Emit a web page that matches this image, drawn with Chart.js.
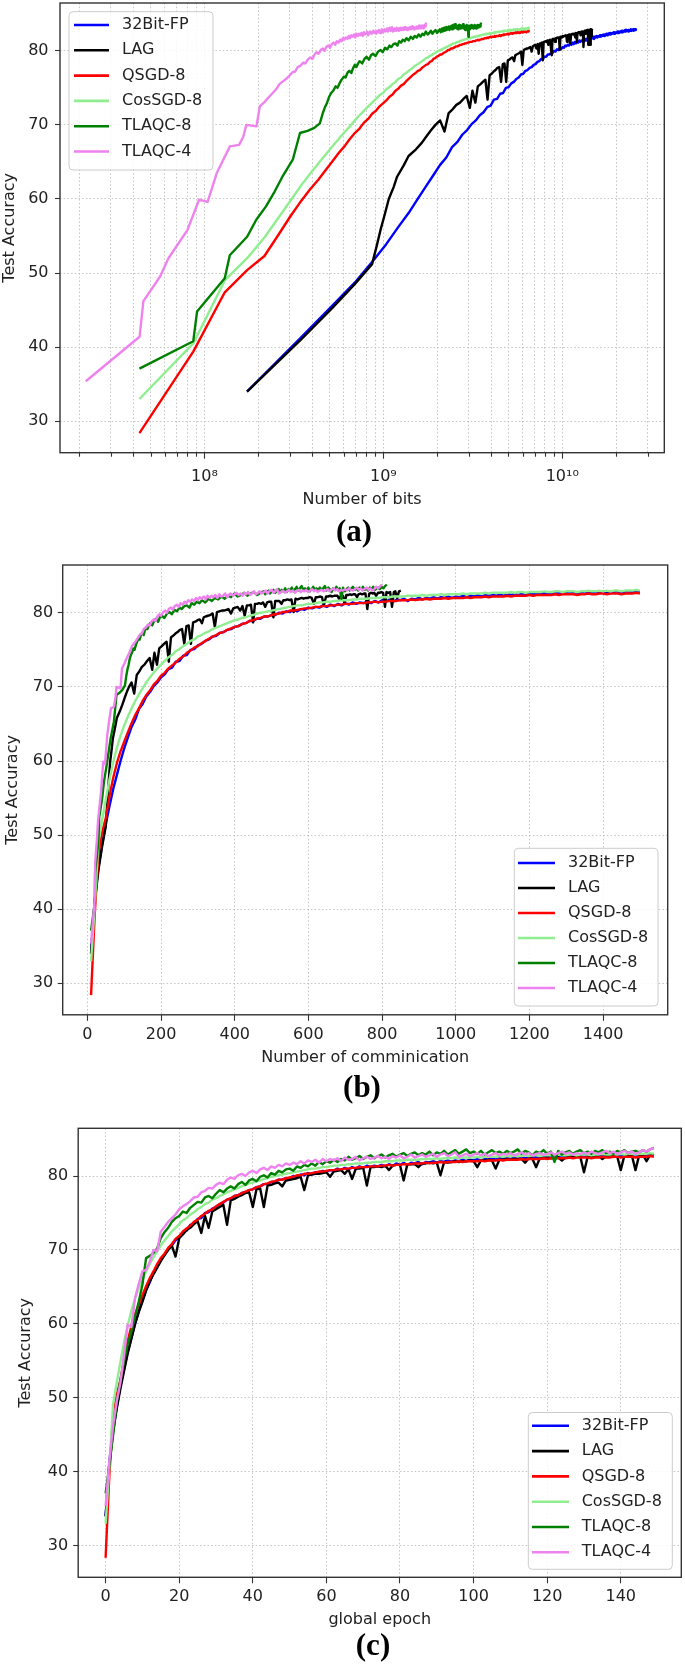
<!DOCTYPE html>
<html><head><meta charset="utf-8">
<script src="https://cdn.jsdelivr.net/npm/chart.js@4.4.1/dist/chart.umd.min.js"></script>
<style>
html,body{margin:0;padding:0;background:#fff;}
body{width:685px;height:1669px;position:relative;overflow:hidden;}
canvas{position:absolute;left:0;}
.plabel{position:absolute;font-family:"Liberation Serif","Times New Roman",serif;font-weight:bold;font-size:31px;line-height:31px;transform:translate(-50%,-50%);white-space:nowrap;color:#000;}
</style></head>
<body>
<canvas id="ca" width="685" height="520" style="top:0px;width:685px;height:520px"></canvas>
<canvas id="cb" width="685" height="530" style="top:545px;width:685px;height:530px"></canvas>
<canvas id="cc" width="685" height="535" style="top:1100px;width:685px;height:535px"></canvas>
<div class="plabel" style="left:354px;top:530px">(a)</div>
<div class="plabel" style="left:362px;top:1086px">(b)</div>
<div class="plabel" style="left:373px;top:1644px">(c)</div>
<script>
// ---------------- DATA ----------------
const seriesLabels = ['32Bit-FP', 'LAG', 'QSGD-8', 'CosSGD-8', 'TLAQC-8', 'TLAQC-4'];

// test accuracy per global epoch (0..149)
const acc32 = [
34.0,41.3,45.6,48.7,51.5,53.9,56.2,58.1,60.0,61.7,
63.2,64.6,65.6,67.0,67.7,68.7,69.3,70.1,70.6,71.3,
71.7,72.4,72.6,73.4,73.5,74.2,74.3,75.0,75.1,75.6,
75.8,76.2,76.4,76.8,76.9,77.3,77.4,77.7,77.8,78.1,
78.2,78.5,78.6,78.9,78.9,79.2,79.2,79.5,79.5,79.7,
79.7,80.0,79.9,80.2,80.1,80.4,80.2,80.5,80.4,80.7,
80.6,80.8,80.7,81.0,80.8,81.1,80.9,81.2,81.0,81.3,
81.1,81.4,81.2,81.4,81.3,81.5,81.3,81.6,81.4,81.7,
81.5,81.8,81.5,81.8,81.7,81.9,81.6,81.9,81.8,82.0,
81.8,82.0,81.9,82.1,81.9,82.1,82.0,82.2,82.0,82.2,
82.1,82.3,82.1,82.3,82.2,82.4,82.2,82.4,82.3,82.4,
82.3,82.5,82.3,82.5,82.4,82.5,82.4,82.6,82.4,82.6,
82.5,82.6,82.5,82.7,82.5,82.7,82.6,82.7,82.6,82.8,
82.6,82.8,82.7,82.7,82.6,82.8,82.7,82.8,82.7,82.9,
82.7,82.8,82.8,82.9,82.7,82.9,82.8,82.8,82.9,82.8];
const accLAG = [
34.0,41.0,45.3,48.5,51.2,53.6,56.0,58.0,60.0,61.6,
63.0,64.5,65.8,66.7,67.6,68.5,69.3,70.0,70.6,69.1,
71.6,72.1,72.7,73.0,73.5,73.9,72.3,74.6,73.0,75.2,
75.5,75.8,76.1,73.4,76.7,76.9,77.2,77.4,77.7,77.8,
75.8,78.2,78.3,75.8,78.7,78.8,79.0,79.1,78.6,79.4,
79.5,79.6,79.7,79.9,78.1,80.1,80.2,80.3,80.3,80.4,
80.5,79.9,80.6,80.7,80.8,80.3,80.9,79.6,81.0,81.0,
81.1,78.7,81.2,81.2,81.3,81.2,81.4,80.8,81.4,81.5,
81.5,79.4,81.6,81.6,81.6,81.2,81.7,81.7,81.8,81.7,
81.8,80.1,81.9,81.8,81.9,82.0,81.9,82.0,82.0,82.1,
82.0,81.2,82.1,82.1,82.2,82.1,81.0,82.2,82.2,82.3,
82.2,82.3,82.3,82.3,81.8,82.4,82.3,81.2,82.4,82.4,
82.5,82.4,82.5,82.5,82.1,82.5,82.6,82.5,82.6,82.6,
80.5,82.6,82.7,82.6,82.7,82.3,82.7,82.7,82.8,82.7,
80.8,82.8,82.7,82.8,80.8,82.8,82.9,82.0,82.9,83.0];
const accQSGD = [
28.4,39.4,47.4,50.4,52.3,55.2,57.7,59.7,61.3,62.6,
63.9,65.1,66.2,67.1,68.1,68.9,69.5,70.3,70.8,71.5,
71.9,72.5,72.9,73.3,73.8,74.1,74.6,74.9,75.3,75.5,
75.9,76.2,76.5,76.8,77.0,77.3,77.4,77.7,77.9,78.1,
78.2,78.5,78.6,78.9,79.0,79.2,79.3,79.5,79.5,79.7,
79.8,79.9,80.1,80.1,80.3,80.3,80.4,80.5,80.6,80.6,
80.7,80.8,80.8,80.9,80.9,81.0,81.0,81.1,81.1,81.2,
81.2,81.2,81.3,81.3,81.3,81.4,81.4,81.5,81.4,81.5,
81.5,81.6,81.6,81.6,81.7,81.7,81.7,81.8,81.7,81.8,
81.8,81.9,81.8,81.9,81.9,81.9,82.0,81.9,82.0,82.0,
82.0,82.0,82.1,82.0,82.1,82.1,82.1,82.2,82.1,82.2,
82.2,82.2,82.2,82.3,82.2,82.3,82.3,82.3,82.3,82.4,
82.3,82.4,82.4,82.4,82.4,82.4,82.5,82.4,82.5,82.5,
82.5,82.5,82.4,82.5,82.5,82.6,82.5,82.5,82.6,82.6,
82.5,82.6,82.6,82.6,82.5,82.6,82.6,82.6,82.7,82.6];
const accCos = [
33.0,40.5,49.0,52.0,54.8,57.5,59.8,61.8,63.4,64.8,
66.0,67.1,68.1,69.0,69.8,70.6,71.3,71.9,72.5,73.0,
73.5,74.0,74.3,74.8,75.1,75.5,75.8,76.2,76.4,76.8,
77.0,77.3,77.5,77.8,78.0,78.2,78.4,78.6,78.8,79.0,
79.1,79.3,79.4,79.6,79.7,79.9,80.0,80.1,80.2,80.3,
80.4,80.5,80.6,80.7,80.8,80.9,81.0,81.0,81.1,81.2,
81.2,81.3,81.4,81.4,81.5,81.5,81.6,81.6,81.7,81.7,
81.7,81.8,81.8,81.9,81.9,81.9,82.0,82.0,82.0,82.1,
82.1,82.1,82.2,82.2,82.2,82.2,82.3,82.3,82.3,82.3,
82.4,82.3,82.4,82.4,82.4,82.5,82.4,82.5,82.5,82.5,
82.5,82.6,82.5,82.6,82.6,82.6,82.6,82.7,82.6,82.7,
82.7,82.7,82.7,82.7,82.8,82.7,82.8,82.8,82.7,82.8,
82.8,82.8,82.8,82.9,82.8,82.8,82.9,82.9,82.8,82.9,
82.9,82.9,82.8,82.9,82.9,83.0,82.9,82.9,83.0,82.9,
83.0,82.9,83.0,83.0,82.9,83.0,83.0,83.0,83.1,83.0];
const accTL8 = [
37.1,40.8,44.8,49.3,52.4,54.9,57.2,59.0,61.0,63.0,
65.3,68.9,69.2,69.6,70.2,71.6,72.4,73.0,73.8,74.3,
74.6,75.2,75.0,75.7,76.1,76.5,76.4,77.1,77.3,77.0,
77.6,78.1,77.8,78.3,78.6,78.3,78.9,79.2,78.8,79.4,
79.6,79.3,79.9,80.1,79.8,80.4,80.2,80.7,80.5,80.9,
81.0,80.7,81.3,81.1,81.5,81.3,81.7,81.4,81.9,81.6,
82.0,81.8,82.2,81.9,82.3,82.1,82.6,82.2,82.4,82.7,
82.3,82.6,82.8,82.4,82.7,82.9,82.5,82.8,83.0,82.6,
82.9,83.1,82.7,83.0,83.2,82.8,83.1,82.9,83.3,82.8,
83.2,83.0,83.4,82.9,83.2,83.5,83.0,83.3,83.6,83.1,
83.3,83.0,83.4,82.9,83.2,83.5,83.1,83.3,83.0,83.4,
83.1,83.3,83.6,83.0,83.4,83.2,82.8,83.3,83.1,83.5,
83.0,83.3,81.9,83.4,82.9,83.2,83.4,83.0,83.3,83.5,
83.1,83.3,83.0,83.4,83.2,83.5,83.1,83.3,83.0,83.4,
83.2,83.5,83.1,83.3,83.4,83.2,83.5,83.3,83.6,83.8];
const accTL4 = [
35.4,41.4,46.2,49.5,52.0,55.8,59.9,59.6,63.5,65.4,
67.1,67.3,68.4,70.0,69.8,72.5,73.1,73.8,74.3,74.8,
75.5,75.9,76.2,76.6,77.1,77.2,77.8,78.0,78.4,78.3,
78.8,79.1,78.9,79.5,79.8,79.6,80.1,80.3,80.0,80.5,
80.7,80.4,80.9,81.1,80.8,81.3,81.1,81.5,81.3,81.7,
81.5,81.8,81.6,82.0,81.7,82.1,81.9,82.2,81.8,82.3,
82.0,82.3,82.1,82.4,82.0,82.5,82.2,82.3,82.6,82.1,
82.4,82.6,82.3,82.5,82.7,82.4,82.6,82.3,82.7,82.5,
82.8,82.4,82.6,82.9,82.5,82.7,82.9,82.6,82.8,83.0,
82.6,82.9,83.1,82.7,82.9,83.2,82.6,82.8,83.0,82.7,
82.9,83.1,82.8,83.0,82.7,82.9,83.1,82.8,83.0,82.9,
83.1,82.8,83.0,83.2,82.9,83.1,82.8,83.0,83.1,82.9,
83.0,83.2,82.9,83.1,83.3,83.0,83.2,82.9,83.1,83.0,
83.2,83.0,83.3,83.1,83.0,83.2,83.4,83.1,83.3,83.0,
83.2,83.4,83.1,83.3,83.0,83.2,83.5,83.3,83.6,83.8];

// communications made in each epoch (full-participation methods send 10 per epoch)
const fullCommsPerEpoch = 10;
const commsLAG = [
10,10,10,10,10,3,3,3,3,4, 3,6,5,8,7,6,6,6,7,7, 7,7,7,7,7,7,7,6,7,6, 7,6,7,6,6,6,6,6,6,6,
6,6,6,6,6,6,6,6,6,5, 5,6,6,7,6,6,6,7,6,6, 6,7,6,6,6,7,6,6,6,6, 5,6,5,6,5,6,5,6,5,6,
5,6,5,6,5,6,5,6,5,6, 5,6,5,6,5,6,5,6,5,6, 5,6,5,6,5,6,5,6,5,6, 6,5,5,4,5,5,5,4,5,5,
5,4,5,5,5,4,5,5,5,4, 5,5,5,4,5,5,5,4,5,5, 5,4,5,5,5,5,4,5,5,5];
const commsTL8 = [
10,10,1,9,2,8,5,6,6,6, 9,7,8,8,7,4,3,3,3,3, 3,4,3,4,3,4,3,4,3,4, 3,4,3,4,3,6,5,5,6,5,
5,7,7,7,6,7,7,7,6,7, 7,7,6,7,7,7,7,9,9,9, 8,9,9,9,9,8,9,9,9,9, 8,9,9,9,9,8,5,4,5,4,
5,4,5,4,5,4,5,4,5,4, 5,4,5,4,5,4,5,4,5,4, 5,4,5,4,5,4,5,4,5,4, 5,4,5,4,5,4,5,4,5,4,
5,4,5,4,5,4,5,4,5,4, 5,4,5,4,5,4,5,4,5,5, 5,4,5,4,5,4,5,5,4,5];
const commsTL4 = [
10,10,1,5,3,8,6,5,6,5, 5,8,4,3,11,4,6,6,5,5, 5,6,5,5,6,5,5,6,5,5, 5,6,5,5,5,5,6,5,5,5,
6,5,5,6,5,5,6,5,5,5, 5,5,6,5,5,5,5,6,5,5, 6,5,5,5,6,5,5,6,5,5, 5,5,6,5,5,5,6,5,5,5,
5,6,5,5,6,5,5,5,6,5, 5,5,6,5,5,5,5,6,5,5, 6,5,5,6,5,5,6,5,5,5, 5,5,6,5,5,5,5,6,5,5,
5,6,5,5,6,5,5,6,5,5, 6,5,5,5,6,5,5,6,5,5, 5,6,5,5,6,5,5,6,5,5];

// bits sent per communication
const bitsPerComm = [1.73e7, 1.73e7, 4.33e6, 4.33e6, 4.33e6, 2.17e6];

// axis ticks
const yTickValues = [30, 40, 50, 60, 70, 80];
const commTickValues = [0, 200, 400, 600, 800, 1000, 1200, 1400];
const epochTickValues = [0, 20, 40, 60, 80, 100, 120, 140];
const bitDecades = [7, 8, 9, 10];

// ---------------- BUILD ----------------
const accAll = [acc32, accLAG, accQSGD, accCos, accTL8, accTL4];
const perEpochComms = [null, commsLAG, null, null, commsTL8, commsTL4];
const seriesColors = ['#0000ff', '#000000', '#ff0000', '#90ee90', '#008000', '#ee82ee'];

function cumComms(i) {
  let s = 0;
  return accAll[i].map((_, e) => { s += perEpochComms[i] ? perEpochComms[i][e] : fullCommsPerEpoch; return s; });
}
const commsX = accAll.map((_, i) => cumComms(i));
const bitsX = commsX.map((arr, i) => arr.map(c => c * bitsPerComm[i]));
const epochX = acc32.map((_, e) => e);

function makeDatasets(xs) {
  return seriesLabels.map((lab, i) => ({
    label: lab,
    data: accAll[i].map((y, k) => ({x: xs[i][k], y: y})),
    borderColor: seriesColors[i],
    backgroundColor: seriesColors[i],
    borderWidth: 2.4,
    pointRadius: 0,
    tension: 0,
    fill: false,
    borderJoinStyle: 'round',
    order: seriesLabels.length - i
  }));
}

const FONT = '"DejaVu Sans", sans-serif';
const TXT = '#222';
const GRID = '#c4c4c4';

const frameLegend = {
  id: 'frameLegend',
  afterDatasetsDraw(chart, args, opts) {
    const ctx = chart.ctx, a = chart.chartArea;
    ctx.save();
    if (opts.minorTicks) {
      const xs = chart.scales.x;
      ctx.strokeStyle = '#333'; ctx.lineWidth = 1.1;
      xs.ticks.forEach(t => {
        if (t.isMinor) {
          const px = Math.round(xs.getPixelForValue(t.value)) + 0.5;
          ctx.beginPath(); ctx.moveTo(px, a.bottom); ctx.lineTo(px, a.bottom + 4); ctx.stroke();
        }
      });
    }
    ctx.strokeStyle = '#333'; ctx.lineWidth = 1.4;
    ctx.strokeRect(a.left, a.top, a.right - a.left, a.bottom - a.top);
    const L = opts.legend;
    if (L) {
      ctx.beginPath();
      ctx.fillStyle = 'rgba(255,255,255,0.85)';
      ctx.strokeStyle = '#cccccc'; ctx.lineWidth = 1;
      if (ctx.roundRect) ctx.roundRect(L.box[0], L.box[1], L.box[2] - L.box[0], L.box[3] - L.box[1], 4);
      else ctx.rect(L.box[0], L.box[1], L.box[2] - L.box[0], L.box[3] - L.box[1]);
      ctx.fill(); ctx.stroke();
      ctx.font = '16px ' + FONT; ctx.textBaseline = 'middle'; ctx.textAlign = 'left';
      seriesLabels.forEach((lab, i) => {
        const y = L.row0 + i * L.rowStep;
        ctx.strokeStyle = seriesColors[i]; ctx.lineWidth = 2.6;
        ctx.beginPath(); ctx.moveTo(L.lineX[0], y); ctx.lineTo(L.lineX[1], y); ctx.stroke();
        ctx.fillStyle = TXT;
        ctx.fillText(lab, L.textX, y);
      });
    }
    ctx.restore();
  }
};

const SUP = {'0':'\u2070','1':'\u00b9','2':'\u00b2','3':'\u00b3','4':'\u2074','5':'\u2075','6':'\u2076','7':'\u2077','8':'\u2078','9':'\u2079'};

function yScale(g) {
  return {
    type: 'linear', min: 25.75, max: 86.45, bounds: 'data',
    afterBuildTicks: s => { s.ticks = yTickValues.map(v => ({value: v})); },
    afterFit: s => { s.width = g.yW; s.paddingTop = 0; s.paddingBottom = 0; },
    grid: { color: GRID, lineWidth: 1, borderDash: [1.5, 2.2], tickLength: 5, tickColor: '#333', tickWidth: 1.1 },
    border: { display: false, dash: [1.5, 2.2] },
    ticks: { font: {family: FONT, size: 16}, color: TXT, padding: g.yTickPad, callback: v => String(v) },
    title: { display: true, text: 'Test Accuracy', color: TXT, font: {family: FONT, size: 16, lineHeight: 1.2}, padding: {top: g.yTitlePad, bottom: 0} }
  };
}
function xCommon(g, title) {
  return {
    afterFit: s => { s.height = g.xH; s.paddingLeft = 0; s.paddingRight = 0; },
    grid: { color: GRID, lineWidth: 1, borderDash: [1.5, 2.2], tickLength: 6, tickWidth: 1.1,
            tickColor: c => (c.tick && c.tick.isMinor) ? 'rgba(0,0,0,0)' : '#333' },
    border: { display: false, dash: [1.5, 2.2] },
    ticks: { font: {family: FONT, size: 16}, color: TXT, padding: g.xTickPad, autoSkip: false, maxRotation: 0, minRotation: 0, callback: v => String(v) },
    title: { display: true, text: title, color: TXT, font: {family: FONT, size: 16, lineHeight: 1.2}, padding: {top: 0, bottom: g.xTitlePad} }
  };
}
function baseOptions(g, scales, legend, minor) {
  return {
    responsive: false, animation: false, devicePixelRatio: 1,
    layout: { autoPadding: false, padding: {left: 0, top: g.padTop, right: g.padRight, bottom: 0} },
    plugins: { legend: {display: false}, tooltip: {enabled: false}, title: {display: false},
               frameLegend: {legend: legend, minorTicks: minor} },
    scales: scales
  };
}

// ---- (a) bits, log axis ----
const gA = {padTop: 3, padRight: 20.7, yW: 60, xH: 67.3, xTitlePad: 10.4, yTitlePad: 0.4, xTickPad: 9, yTickPad: 6.5};
const xA = Object.assign(xCommon(gA, 'Number of bits'), {
  type: 'logarithmic', min: 1.558e7, max: 3.72e10,
  afterBuildTicks: s => {
    const t = [];
    bitDecades.forEach(d => { for (let m = 1; m <= 9; m++) { const v = m * Math.pow(10, d); if (v >= s.min && v <= s.max) t.push({value: v, isMinor: m !== 1}); } });
    s.ticks = t;
  }
});
xA.ticks.callback = (v) => {
  const e = Math.round(Math.log10(v));
  if (Math.abs(v / Math.pow(10, e) - 1) > 1e-6) return '';
  return '10' + String(e).split('').map(c => SUP[c]).join('');
};
new Chart(document.getElementById('ca'), {
  type: 'line',
  data: { datasets: makeDatasets(bitsX) },
  options: baseOptions(gA, {x: xA, y: yScale(gA)},
    {box: [69, 11.7, 213, 170], row0: 25, rowStep: 25.3, lineX: [74, 109], textX: 122}, true),
  plugins: [frameLegend]
});

// ---- (b) communications ----
const gB = {padTop: 20, padRight: 17.3, yW: 62.7, xH: 60.2, xTitlePad: 7.9, yTitlePad: 3.4, xTickPad: 4, yTickPad: 4.5};
const xB = Object.assign(xCommon(gB, 'Number of comminication'), {
  type: 'linear', min: -67, max: 1575.5, bounds: 'data',
  afterBuildTicks: s => { s.ticks = commTickValues.map(v => ({value: v})); }
});
new Chart(document.getElementById('cb'), {
  type: 'line',
  data: { datasets: makeDatasets(commsX) },
  options: baseOptions(gB, {x: xB, y: yScale(gB)},
    {box: [514.3, 303.3, 658, 461], row0: 318, rowStep: 25, lineX: [518, 555], textX: 568}, false),
  plugins: [frameLegend]
});

// ---- (c) epochs ----
const gC = {padTop: 28.3, padRight: 3.7, yW: 78.2, xH: 57.7, xTitlePad: 5.4, yTitlePad: 15.9, xTickPad: 4, yTickPad: 5};
const xC = Object.assign(xCommon(gC, 'global epoch'), {
  type: 'linear', min: -7.45, max: 156.45, bounds: 'data',
  afterBuildTicks: s => { s.ticks = epochTickValues.map(v => ({value: v})); }
});
new Chart(document.getElementById('cc'), {
  type: 'line',
  data: { datasets: makeDatasets(accAll.map(() => epochX)) },
  options: baseOptions(gC, {x: xC, y: yScale(gC)},
    {box: [528.3, 312.5, 672.3, 469.3], row0: 325.8, rowStep: 25.3, lineX: [532, 569], textX: 581.7}, false),
  plugins: [frameLegend]
});
</script>
</body></html>
